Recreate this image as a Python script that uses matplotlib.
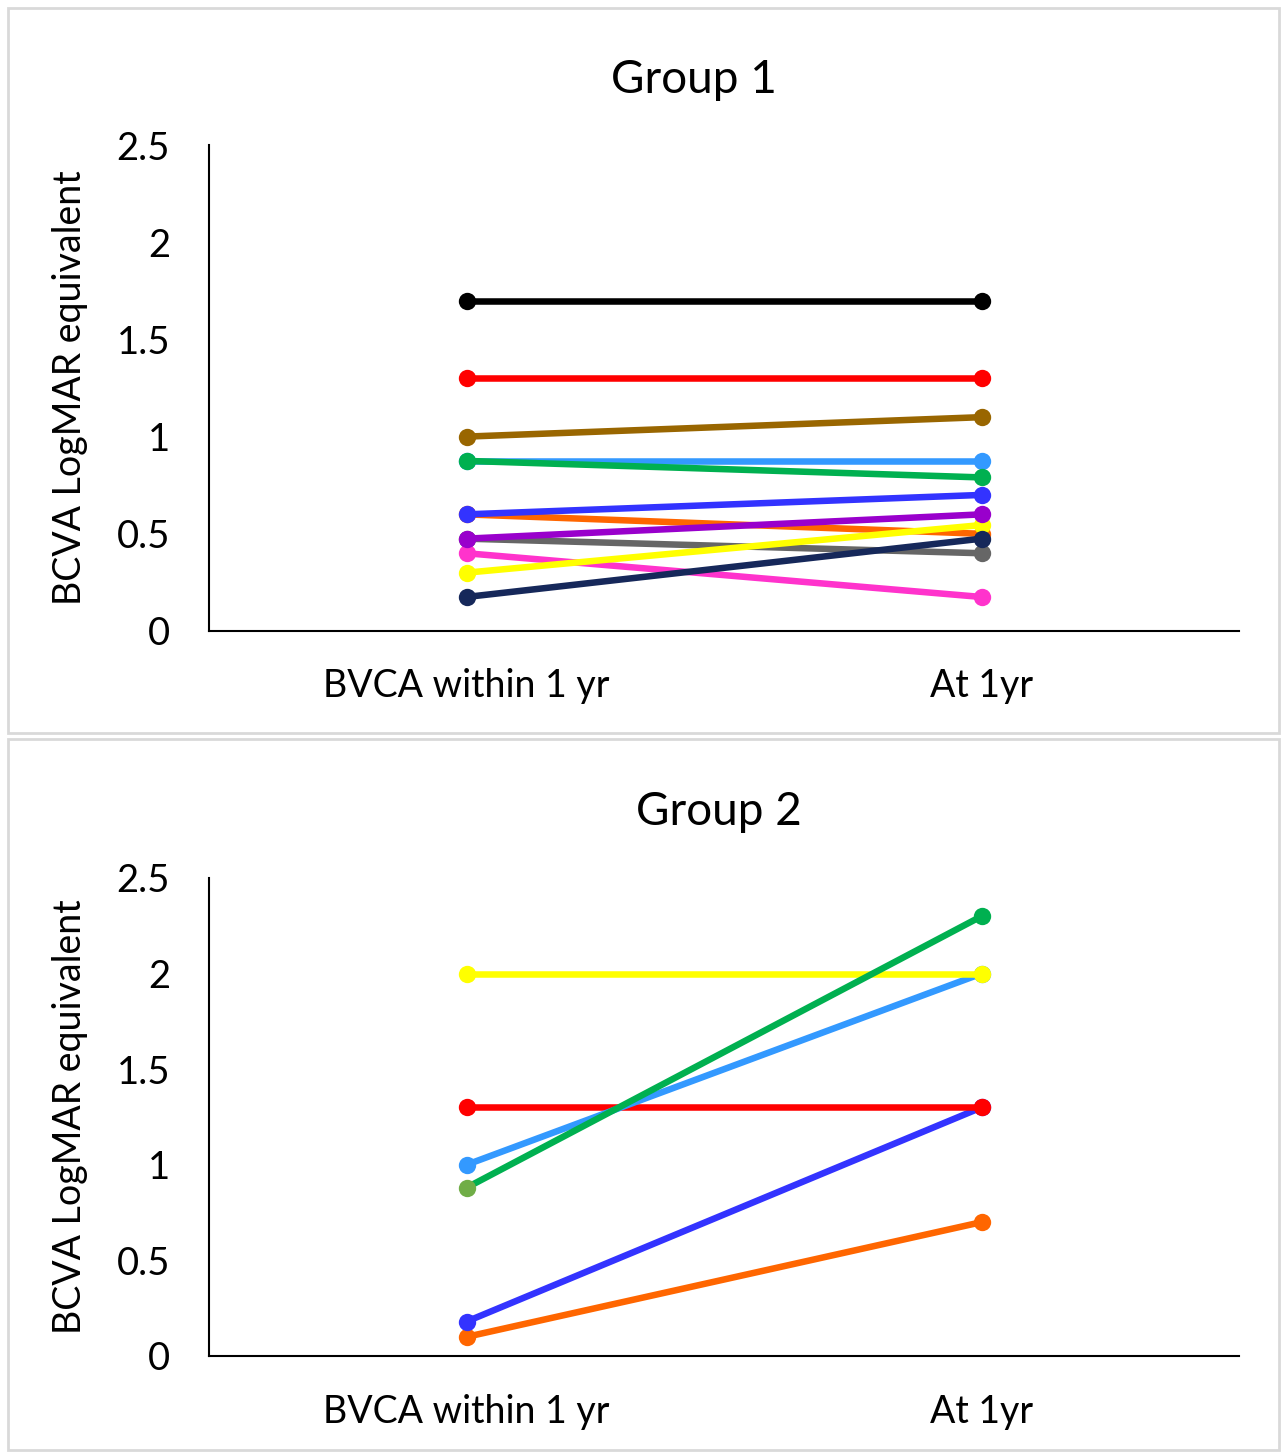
import matplotlib
matplotlib.use("Agg")
import matplotlib.pyplot as plt
from matplotlib.patches import Rectangle

categories = ["BVCA within 1 yr", "At 1yr"]
yticks = [0, 0.5, 1, 1.5, 2, 2.5]
ytick_labels = ["0", "0.5", "1", "1.5", "2", "2.5"]

# Group 1 series (start, end) — drawing order bottom to top
g1_values = [
    [0.60, 0.50],   # orange
    [0.875, 0.875], # light blue
    [0.475, 0.40],  # gray
    [0.40, 0.175],  # pink
    [0.30, 0.545],  # yellow
    [0.175, 0.475], # navy
    [0.475, 0.60],  # purple
    [0.60, 0.70],   # blue
    [0.875, 0.79],  # green
    [1.00, 1.10],   # brown
    [1.30, 1.30],   # red
    [1.70, 1.70],   # black
]
g1_colors = ["#FF6600", "#3399FF", "#666666", "#FF33CC", "#FFFF00", "#16285A",
             "#9900CC", "#3333FF", "#00B050", "#996600", "#FF0000", "#000000"]

# Group 2 series
g2_values = [
    [0.10, 0.70],  # orange
    [0.18, 1.30],  # blue
    [1.30, 1.30],  # red
    [1.00, 2.00],  # light blue
    [2.00, 2.00],  # yellow
    [0.88, 2.30],  # green
]
g2_colors = ["#FF6600", "#3333FF", "#FF0000", "#3399FF", "#FFFF00", "#00B050"]
g2_first_marker_colors = ["#FF6600", "#3333FF", "#FF0000", "#3399FF", "#FFFF00", "#70AD47"]

W, H = 1285, 1454
fig = plt.figure(figsize=(W / 100, H / 100), dpi=100)
font = "Lato"

# panel borders
for (x0, y0, x1, y1) in [(8, 8, 1279, 733), (8, 739, 1279, 1450)]:
    fig.patches.append(Rectangle((x0 / W, 1 - y1 / H), (x1 - x0) / W, (y1 - y0) / H,
                                 transform=fig.transFigure, fill=False,
                                 edgecolor="#D9D9D9", linewidth=2))

def make_axes(top, bottom, title, title_x, title_y, values, colors, first_colors=None):
    left, right = 209, 1239
    ax = fig.add_axes([left / W, 1 - bottom / H, (right - left) / W, (bottom - top) / H])
    xs = list(range(len(categories)))
    for i, (v, c) in enumerate(zip(values, colors)):
        ax.plot(xs, v, color=c, linewidth=4.7, solid_capstyle="butt", zorder=2 + i)
        mc = [c, c]
        if first_colors is not None:
            mc[0] = first_colors[i]
        for x, y, m in zip(xs, v, mc):
            ax.plot([x], [y], marker="o", markersize=12.5, color=m, markeredgewidth=0, zorder=2 + i)
    ax.set_xlim(-0.5, 1.5)
    ax.set_ylim(0, 2.5)
    ax.set_xticks(xs)
    ax.set_xticklabels(categories, fontsize=27, family=font)
    ax.set_yticks(yticks)
    ax.set_yticklabels(ytick_labels, fontsize=27.5, family=font)
    ax.tick_params(axis="y", length=0, pad=28)
    ax.tick_params(axis="x", length=0, pad=27)
    for s in ["top", "right"]:
        ax.spines[s].set_visible(False)
    ax.spines["left"].set_linewidth(1.5)
    ax.spines["bottom"].set_linewidth(1.5)
    ax.set_ylabel("BCVA LogMAR equivalent", fontsize=27, family=font)
    ax.yaxis.set_label_coords(-(209 - 88) / 1030, 0.5)
    fig.text(title_x / W, 1 - title_y / H, title, fontsize=33, family=font,
             ha="center", va="center")
    ax.patch.set_alpha(0)
    return ax

make_axes(145, 631, "Group 1", 694, 80, g1_values, g1_colors)
make_axes(878, 1356, "Group 2", 719, 812, g2_values, g2_colors, g2_first_marker_colors)

fig.savefig("out.png", dpi=100, facecolor="white")
